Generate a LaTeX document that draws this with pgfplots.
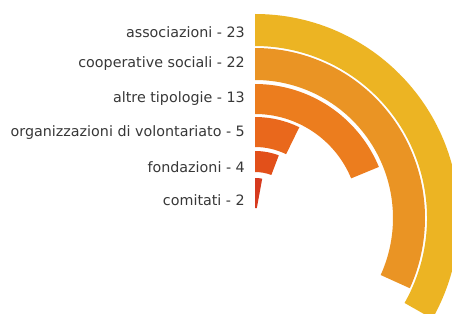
\documentclass[border=0pt]{standalone}
\usepackage{fontspec}
\setmainfont{DejaVu Sans}
\usepackage{pgfplots}
\usepackage{pgfplotstable}
\pgfplotsset{compat=1.18}
\definecolor{ring0}{RGB}{236,180,35}
\definecolor{ring1}{RGB}{234,148,36}
\definecolor{ring2}{RGB}{236,125,30}
\definecolor{ring3}{RGB}{233,104,28}
\definecolor{ring4}{RGB}{226,80,26}
\definecolor{ring5}{RGB}{214,58,30}
\definecolor{txt}{RGB}{55,55,55}
% value, outer radius, inner radius, label y position
\pgfplotstableread[col sep=comma]{
name,value,rout,rin,ly
associazioni - 23,23,204,172,186
cooperative sociali - 22,22,170,138,154
altre tipologie - 13,13,134,104,119
organizzazioni di volontariato - 5,5,101,71,85
fondazioni - 4,4,67,46,51
comitati - 2,2,40,10,18
}\ringdata
\begin{document}
\begin{tikzpicture}
\begin{axis}[
  x=1pt, y=1pt,
  xmin=-255, xmax=197, ymin=-95, ymax=218,
  scale only axis, hide axis, clip=true,
]
\pgfplotsforeachungrouped \i in {0,...,5}{%
  \pgfplotstablegetelem{\i}{value}\of\ringdata \let\v=\pgfplotsretval
  \pgfplotstablegetelem{\i}{rout}\of\ringdata \let\ro=\pgfplotsretval
  \pgfplotstablegetelem{\i}{rin}\of\ringdata \let\ri=\pgfplotsretval
  \pgfplotstablegetelem{\i}{ly}\of\ringdata \let\ly=\pgfplotsretval
  \pgfplotstablegetelem{\i}{name}\of\ringdata \let\nm=\pgfplotsretval
  \pgfmathsetmacro\a{90-5.2*\v}
  \pgfmathsetmacro\w{\ro-\ri}
  \edef\temp{%
    \noexpand\fill[ring\i] (axis cs:0,0) ++(90:\ro pt)
      arc[start angle=90, end angle=\a, radius=\ro pt]
      -- ++(\a:-\w pt)
      arc[start angle=\a, end angle=90, radius=\ri pt] -- cycle;
    \noexpand\node[anchor=east, text=txt, font=\noexpand\fontsize{14.3}{16}\noexpand\selectfont, inner sep=0pt] at (axis cs:-10,\ly) {\nm};
  }%
  \temp
}
\end{axis}
\pgfresetboundingbox
\path[use as bounding box] (current axis.south west) rectangle (current axis.north east);
\end{tikzpicture}
\end{document}
